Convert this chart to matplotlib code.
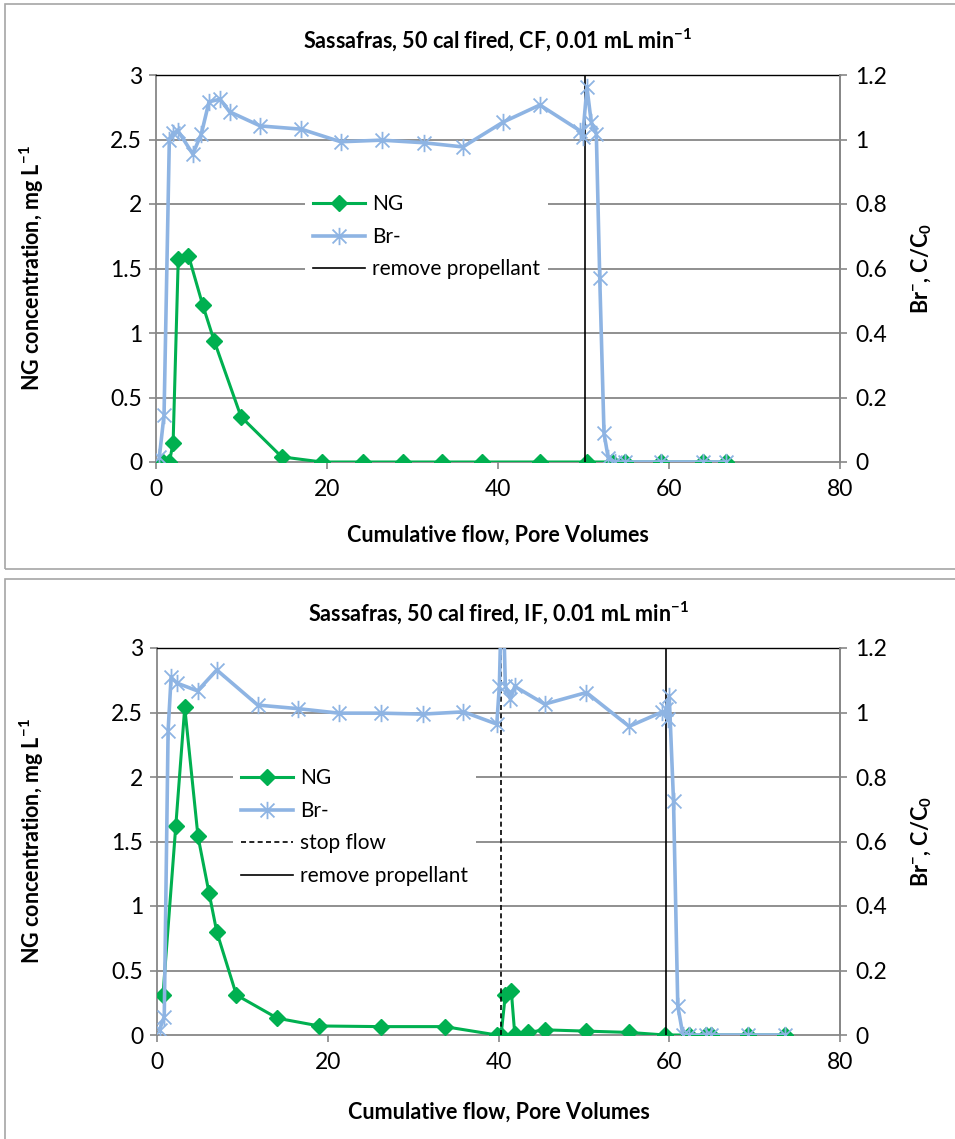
import matplotlib
matplotlib.use("Agg")
import matplotlib.pyplot as plt
from matplotlib.path import Path
from matplotlib.patches import Rectangle

# ---------------- data ----------------
# Top chart: CF
cf_ng_x = [0.85, 1.56, 2.0, 2.6, 3.8, 5.45, 6.8, 9.95, 14.7, 19.4, 24.2, 28.9, 33.5, 38.1, 44.9, 50.4, 53.3, 54.9, 59.1, 64.0, 66.7]
cf_ng_y = [0.0, 0.0, 0.145, 1.57, 1.60, 1.22, 0.94, 0.35, 0.04, 0.0, 0.0, 0.0, 0.0, 0.0, 0.0, 0.0, 0.0, 0.0, 0.0, 0.0, 0.0]
cf_br_x = [0.39, 0.94, 1.56, 2.0, 2.6, 4.3, 5.3, 6.2, 7.5, 8.6, 12.2, 17.0, 21.6, 26.4, 31.3, 35.9, 40.6, 44.9, 49.6, 49.9, 50.4, 50.9, 51.5, 51.9, 52.4, 52.9, 53.7, 54.9, 59.1, 64.0, 66.7]
cf_br_y = [0.015, 0.146, 1.0, 1.02, 1.026, 0.955, 1.017, 1.117, 1.125, 1.086, 1.042, 1.032, 0.993, 0.998, 0.99, 0.977, 1.054, 1.107, 1.027, 1.007, 1.162, 1.055, 1.017, 0.57, 0.089, 0.011, 0.0, 0.0, 0.0, 0.0, 0.0]
cf_remove_x = 50.2

# Bottom chart: IF
if_ng_x = [0.7, 2.2, 3.25, 4.8, 6.1, 7.0, 9.3, 14.1, 19.0, 26.2, 33.7, 39.8, 40.3, 40.8, 41.5, 41.9, 43.5, 45.4, 50.3, 55.3, 59.5, 62.3, 64.3, 64.9, 69.2, 73.5]
if_ng_y = [0.31, 1.62, 2.54, 1.54, 1.10, 0.80, 0.31, 0.13, 0.07, 0.065, 0.065, 0.0, 0.0, 0.31, 0.34, 0.01, 0.02, 0.04, 0.03, 0.02, 0.0, 0.0, 0.0, 0.0, 0.0, 0.0]
if_br_x = [0.3, 0.85, 1.3, 1.65, 2.35, 4.75, 7.0, 11.8, 16.5, 21.3, 26.2, 31.1, 35.9, 39.8, 40.1, 40.45, 40.8, 41.4, 41.9, 45.4, 50.3, 55.3, 59.2, 59.8, 59.6, 60.0, 60.5, 61.0, 61.6, 62.3, 64.3, 64.9, 69.2, 73.5]
if_br_y = [0.016, 0.057, 0.943, 1.109, 1.091, 1.067, 1.132, 1.023, 1.012, 0.998, 0.998, 0.995, 1.002, 0.964, 1.083, 1.45, 1.083, 1.041, 1.081, 1.026, 1.062, 0.957, 1.002, 0.979, 1.01, 1.05, 0.725, 0.09, 0.0, 0.0, 0.0, 0.0, 0.0, 0.0]
if_stop_x = 40.3
if_remove_x = 59.6

x_ticks = [0, 20, 40, 60, 80]
y_ticks = [0, 0.5, 1, 1.5, 2, 2.5, 3]
y_labels = ["0", "0.5", "1", "1.5", "2", "2.5", "3"]
y2_ticks = [0, 0.2, 0.4, 0.6, 0.8, 1.0, 1.2]
y2_labels = ["0", "0.2", "0.4", "0.6", "0.8", "1", "1.2"]

# ---------------- style ----------------
W, H = 955, 1139
FONT = ["Lato", "DejaVu Sans"]
plt.rcParams["font.family"] = FONT
plt.rcParams["mathtext.fontset"] = "custom"
plt.rcParams["mathtext.rm"] = "Lato"
plt.rcParams["mathtext.bf"] = "Lato:bold"
GREEN = "#00B050"
BLUE = "#8EB4E3"
GRID = "#878787"

star = Path([(-1, -1), (1, 1), (-1, 1), (1, -1), (0, -1.25), (0, 1.25)],
            [Path.MOVETO, Path.LINETO, Path.MOVETO, Path.LINETO, Path.MOVETO, Path.LINETO])

fig = plt.figure(figsize=(W / 100, H / 100), dpi=100)

# panel borders
for (y0, y1) in [(4, 569), (579, 1200)]:
    fig.patches.append(Rectangle((5 / W, 1 - y1 / H), 1.2, (y1 - y0) / H,
                                 transform=fig.transFigure, fill=False,
                                 edgecolor="#A6A6A6", linewidth=1.2))


def make_panel(left, top, right, bottom, title, title_y, xlab_y, ng_x, ng_y, br_x, br_y, vlines, leg_anchor):
    ax = fig.add_axes([left / W, 1 - bottom / H, (right - left) / W, (bottom - top) / H])
    ax.set_xlim(0, 80)
    ax.set_ylim(0, 3)
    ax.set_xticks(x_ticks)
    ax.set_xticklabels([str(t) for t in x_ticks])
    ax.set_yticks(y_ticks)
    ax.set_yticklabels(y_labels)
    for yt in y_ticks[1:-1]:
        ax.axhline(yt, color=GRID, lw=1.3, zorder=0)
    for s in ["left", "bottom", "right"]:
        ax.spines[s].set_color(GRID)
        ax.spines[s].set_linewidth(1.3)
    ax.spines["top"].set_color("black")
    ax.spines["top"].set_linewidth(1.0)
    ax.tick_params(axis="both", colors=GRID, labelcolor="black", labelsize=16.5, length=5, width=1.2)
    ax.tick_params(axis="y", direction="out", pad=5)
    ax.tick_params(axis="x", direction="out", pad=7)

    handles = []
    lng, = ax.plot(ng_x, ng_y, color=GREEN, lw=2.2, marker="D", markersize=8.5,
                   markerfacecolor=GREEN, markeredgecolor=GREEN, zorder=3, label="NG")
    handles.append(lng)

    ax2 = ax.twinx()
    ax2.set_ylim(0, 1.2)
    ax2.set_yticks(y2_ticks)
    ax2.set_yticklabels(y2_labels)
    for s in ax2.spines.values():
        s.set_visible(False)
    ax2.spines["right"].set_visible(True)
    ax2.spines["right"].set_color(GRID)
    ax2.spines["right"].set_linewidth(1.3)
    ax2.tick_params(axis="y", colors=GRID, labelcolor="black", labelsize=16.5, length=5, width=1.2, pad=6)
    lbr, = ax2.plot(br_x, br_y, color=BLUE, lw=2.6, marker=star, markersize=12.5,
                    markeredgecolor=BLUE, markeredgewidth=1.3, fillstyle="none", zorder=3, label="Br-")
    handles.append(lbr)
    for (xv, ls, lab) in vlines:
        l = ax2.axvline(xv, color="black", lw=1.2, linestyle=ls, zorder=2, label=lab)
        handles.append(l)

    fig.text((left + right) / 2 / W, 1 - title_y / H, title, fontsize=15.5, fontweight="bold",
             ha="center", va="center")
    ax.set_xlabel("Cumulative flow, Pore Volumes", fontsize=15.5, fontweight="bold")
    ax.xaxis.set_label_coords(0.5, (bottom - xlab_y) / (bottom - top))
    ax.xaxis.label.set_va("center")
    ax.set_ylabel(r"NG concentration, mg L$^{\mathbf{-1}}$", fontsize=15.5, fontweight="bold")
    ax.yaxis.set_label_coords((32 - left) / (right - left), 0.5)
    ax.yaxis.label.set_va("center")
    ax2.set_ylabel(r"Br$^{\mathbf{-}}$, C/C$_{\mathbf{0}}$", fontsize=15.5, fontweight="bold")
    ax2.yaxis.set_label_coords((922 - left) / (right - left), 0.5)
    ax2.yaxis.label.set_va("center")

    leg = ax2.legend(handles=handles, loc="upper left", bbox_to_anchor=leg_anchor,
                     frameon=True, fontsize=15, handlelength=2.5, handletextpad=0.3,
                     labelspacing=0.6, borderpad=0.4, borderaxespad=0)
    leg.get_frame().set_facecolor("white")
    leg.get_frame().set_edgecolor("none")
    leg.get_frame().set_alpha(1)
    leg.set_zorder(5)
    return ax, ax2


make_panel(156, 75, 840, 462, r"Sassafras, 50 cal fired, CF, 0.01 mL min$^{\mathbf{-1}}$", 40, 535,
           cf_ng_x, cf_ng_y, cf_br_x, cf_br_y,
           [(cf_remove_x, "-", "remove propellant")], ((305 - 156) / 684, (462 - 186) / 387))

make_panel(157, 648, 840, 1035, r"Sassafras, 50 cal fired, IF, 0.01 mL min$^{\mathbf{-1}}$", 613, 1112,
           if_ng_x, if_ng_y, if_br_x, if_br_y,
           [(if_stop_x, (0, (3, 2)), "stop flow"), (if_remove_x, "-", "remove propellant")],
           ((233 - 157) / 683, (1035 - 760) / 387))

fig.savefig("out.png", dpi=100)
